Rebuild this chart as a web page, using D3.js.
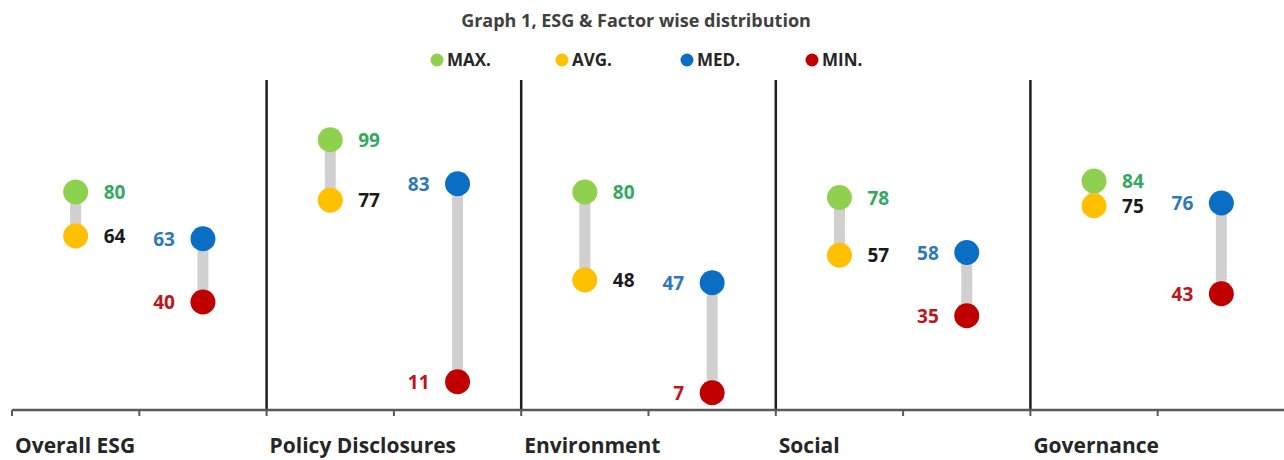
<!DOCTYPE html>
<html>
<head>
<meta charset="utf-8">
<script src="https://cdn.jsdelivr.net/npm/d3@7"></script>
<style>
  body { margin: 0; background: #fff; }
  text { font-family: "Open Sans", sans-serif; font-weight: bold; }
</style>
</head>
<body>
<script>
// chart data
var categories = ["Overall ESG", "Policy Disclosures", "Environment", "Social", "Governance"];
var maxVals = [80, 99, 80, 78, 84];
var avgVals = [64, 77, 48, 57, 75];
var medVals = [63, 83, 47, 58, 76];
var minVals = [40, 11, 7, 35, 43];
var legendNames = ["MAX.", "AVG.", "MED.", "MIN."];

var w = 1284, h = 460;
var dotColor = { max: "#8fd14f", avg: "#ffc000", med: "#0a6fc4", min: "#c00000" };
var labelColor = { max: "#33a860", avg: "#1a1a1a", med: "#2f78b8", min: "#c0141c" };

var svg = d3.select("body").append("svg")
    .attr("width", w)
    .attr("height", h);

// ten half-columns, two per category
var cols = d3.range(categories.length * 2);
var x = d3.scaleBand().domain(cols).range([12, 1285]);
var y = d3.scaleLinear().domain([0, 100]).range([412, 137]);
var bw = x.bandwidth();

// title
svg.append("text")
    .attr("x", 636)
    .attr("y", 27)
    .attr("text-anchor", "middle")
    .style("font-size", "18px")
    .style("fill", "#404040")
    .text("Graph 1, ESG & Factor wise distribution");

// legend
var legendX = d3.scalePoint().domain(legendNames).range([437, 812]);
var legendCol = [dotColor.max, dotColor.avg, dotColor.med, dotColor.min];
var leg = svg.selectAll(".leg")
    .data(legendNames)
    .enter().append("g")
    .attr("class", "leg")
    .attr("transform", function(d){ return "translate(" + legendX(d) + ",60)"; });
leg.append("circle")
    .attr("r", 6.5)
    .style("fill", function(d, i){ return legendCol[i]; });
leg.append("text")
    .attr("x", 10)
    .attr("y", 6)
    .style("font-size", "17px")
    .style("fill", "#262626")
    .text(function(d){ return d; });

// panel separators
svg.selectAll(".sep")
    .data(d3.range(1, categories.length))
    .enter().append("line")
    .attr("class", "sep")
    .attr("x1", function(d){ return x(d * 2); })
    .attr("x2", function(d){ return x(d * 2); })
    .attr("y1", 80)
    .attr("y2", 410)
    .style("stroke", "#1e1e1e")
    .style("stroke-width", 2.5);

// x axis with ticks at every half-column boundary
var axisY = 410;
var tickPos = d3.range(cols.length + 1).map(function(i){ return 12 + i * bw; });
svg.append("line")
    .attr("x1", 12).attr("x2", 1285)
    .attr("y1", axisY).attr("y2", axisY)
    .style("stroke", "#595959")
    .style("stroke-width", 2.5);
svg.selectAll(".tick")
    .data(tickPos)
    .enter().append("line")
    .attr("class", "tick")
    .attr("x1", function(d){ return d; })
    .attr("x2", function(d){ return d; })
    .attr("y1", axisY)
    .attr("y2", axisY + 6)
    .style("stroke", "#595959")
    .style("stroke-width", 2);

// category labels
svg.selectAll(".cat")
    .data(categories)
    .enter().append("text")
    .attr("class", "cat")
    .attr("x", function(d, i){ return x(i * 2) + 3; })
    .attr("y", 453)
    .style("font-size", "21px")
    .style("fill", "#262626")
    .text(function(d){ return d; });

// build pairs: left column max/avg, right column med/min
var pairs = [];
categories.forEach(function(c, i){
    pairs.push({ col: i * 2, top: { key: "max", v: maxVals[i] }, bot: { key: "avg", v: avgVals[i] }, side: "right" });
    pairs.push({ col: i * 2 + 1, top: { key: "med", v: medVals[i] }, bot: { key: "min", v: minVals[i] }, side: "left" });
});

var g = svg.selectAll(".pair")
    .data(pairs)
    .enter().append("g")
    .attr("class", "pair")
    .attr("transform", function(d){ return "translate(" + (x(d.col) + bw / 2) + ",0)"; });

g.append("line")
    .attr("y1", function(d){ return y(d.top.v); })
    .attr("y2", function(d){ return y(d.bot.v); })
    .style("stroke", "#d0d0d0")
    .style("stroke-width", 11);

var r = 12.5;
["top", "bot"].forEach(function(k){
    g.append("circle")
        .attr("cy", function(d){ return y(d[k].v); })
        .attr("r", r)
        .style("fill", function(d){ return dotColor[d[k].key]; });

    g.append("text")
        .attr("x", function(d){ return d.side == "right" ? 28 : -28; })
        .attr("y", function(d){ return y(d[k].v) + 7; })
        .attr("text-anchor", function(d){ return d.side == "right" ? "start" : "end"; })
        .style("font-size", "19px")
        .style("fill", function(d){ return labelColor[d[k].key]; })
        .text(function(d){ return d[k].v; });
});
</script>
</body>
</html>
